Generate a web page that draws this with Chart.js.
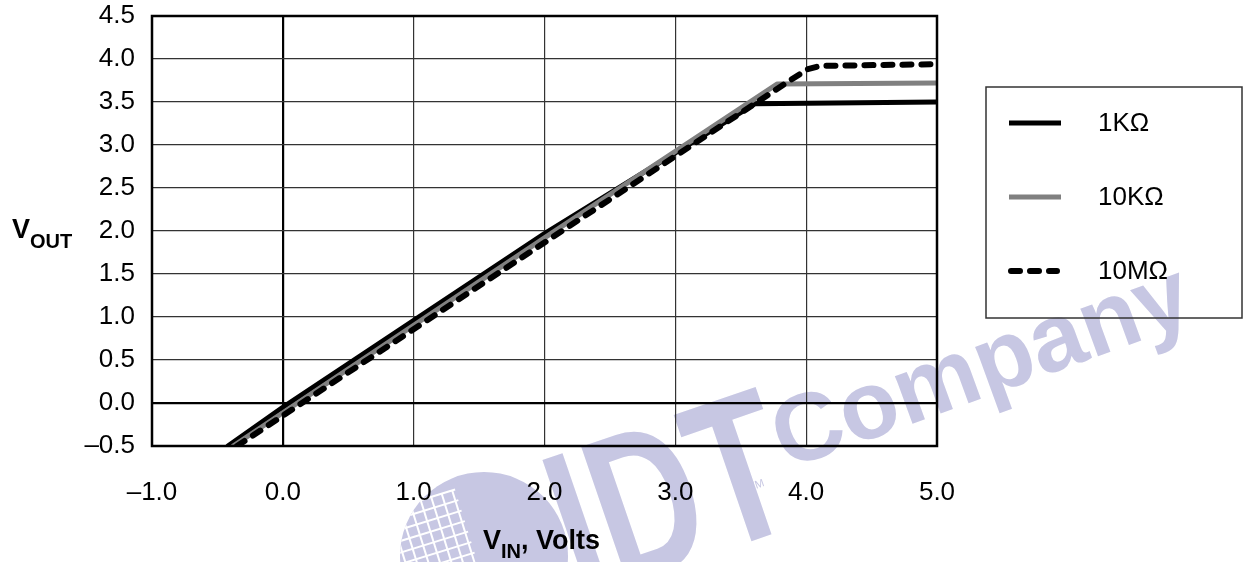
<!DOCTYPE html>
<html>
<head>
<meta charset="utf-8">
<script src="https://cdn.jsdelivr.net/npm/chart.js@4.4.0/dist/chart.umd.min.js"></script>
<style>
  body { margin: 0; background: #fff; }
  #chart { display: block; }
</style>
</head>
<body>
<canvas id="chart" width="1245" height="562"></canvas>
<script>
// series (V_IN, V_OUT)
const seriesNames = ['1KΩ', '10KΩ', '10MΩ'];
const vin1k = [-0.42, 0.0, 2.0, 3.61, 5.0];
const vout1k = [-0.5, -0.05, 1.97, 3.48, 3.50];
const vin10k = [-0.38, 2.0, 3.78, 5.0];
const vout10k = [-0.5, 1.92, 3.71, 3.72];
const vin10m = [-0.35, 2.0, 3.855, 4.01, 4.11, 5.0];
const vout10m = [-0.5, 1.866, 3.73, 3.88, 3.92, 3.94];

const xTicks = [-1, 0, 1, 2, 3, 4, 5];
const yTicks = [-0.5, 0, 0.5, 1, 1.5, 2, 2.5, 3, 3.5, 4, 4.5];

const FONT = '"Liberation Sans", Arial, sans-serif';
const fmt = v => (v < 0 ? '–' : '') + Math.abs(v).toFixed(1);
const pts = (xs, ys) => xs.map((x, i) => ({ x: x, y: ys[i] }));

// faint IDT watermark behind everything
const watermark = {
  id: 'watermark',
  beforeDraw(chart) {
    const c = chart.ctx;
    c.save();
    c.fillStyle = '#c7c7e3';
    // round logo with a white grid on its left side
    c.beginPath();
    c.arc(484, 556, 84, 0, Math.PI * 2);
    c.fill();
    c.save();
    c.beginPath();
    c.arc(484, 556, 84, 0, Math.PI * 2);
    c.clip();
    c.strokeStyle = '#fff';
    c.lineWidth = 2;
    c.translate(484, 556);
    c.rotate(-0.3);
    for (let i = -88; i < -6; i += 11) {
      c.beginPath(); c.moveTo(i, -72); c.lineTo(i, 90); c.stroke();
    }
    for (let j = -72; j < 90; j += 11) {
      c.beginPath(); c.moveTo(-95, j); c.lineTo(-8, j); c.stroke();
    }
    c.restore();

    c.save();
    c.translate(580, 600);
    c.rotate(-0.33);
    c.scale(0.7, 1);
    c.font = 'bold 210px ' + FONT;
    c.fillText('IDT', 0, 0);
    c.restore();
    c.save();
    c.translate(750, 491);
    c.rotate(-0.33);
    c.font = '11px ' + FONT;
    c.fillText('TM', 0, 0);
    c.restore();

    c.save();
    c.translate(786, 470);
    c.rotate(-0.35);
    c.font = 'bold 96px ' + FONT;
    c.fillText('Company', 0, 0);
    c.restore();
    c.restore();
  }
};

// frame, axis titles and boxed legend
const decorations = {
  id: 'decorations',
  afterDraw(chart) {
    const c = chart.ctx;
    const a = chart.chartArea;
    c.save();
    c.strokeStyle = '#000';
    c.lineWidth = 2.5;
    c.strokeRect(a.left, a.top, a.right - a.left, a.bottom - a.top);

    c.fillStyle = '#000';
    c.textBaseline = 'alphabetic';
    c.font = 'bold 27px ' + FONT;
    c.fillText('V', 12, 238);
    let w = c.measureText('V').width;
    c.font = 'bold 20px ' + FONT;
    c.fillText('OUT', 12 + w, 248);

    c.font = 'bold 27px ' + FONT;
    c.fillText('V', 483, 549);
    w = c.measureText('V').width;
    c.font = 'bold 20px ' + FONT;
    c.fillText('IN', 483 + w, 558);
    const w2 = c.measureText('IN').width;
    c.font = 'bold 27px ' + FONT;
    c.fillText(', Volts', 483 + w + w2, 549);

    // legend
    c.strokeStyle = '#333';
    c.lineWidth = 1.5;
    c.strokeRect(986, 87, 256, 231);
    const rows = [123, 197, 271];
    chart.data.datasets.forEach((ds, i) => {
      const dashed = ds.borderDash.length > 0;
      c.beginPath();
      c.strokeStyle = ds.borderColor;
      c.lineWidth = ds.borderWidth;
      c.lineCap = dashed ? 'round' : 'butt';
      c.setLineDash(dashed ? [9, 10] : []);
      c.moveTo(dashed ? 1011 : 1009, rows[i]);
      c.lineTo(dashed ? 1057 : 1061, rows[i]);
      c.stroke();
      c.setLineDash([]);
      c.fillStyle = '#000';
      c.font = '26px ' + FONT;
      c.textBaseline = 'middle';
      c.fillText(ds.label, 1098, rows[i] + 1);
    });
    c.restore();
  }
};

const gridColor = ctx => (ctx.tick && ctx.tick.value === 0 ? '#000' : '#333');
const gridWidth = ctx => (ctx.tick && ctx.tick.value === 0 ? 2.2 : 1.2);

new Chart(document.getElementById('chart'), {
  type: 'line',
  data: {
    datasets: [
      {
        label: seriesNames[0],
        data: pts(vin1k, vout1k),
        borderColor: '#000',
        borderWidth: 5,
        borderDash: [],
        order: 3
      },
      {
        label: seriesNames[1],
        data: pts(vin10k, vout10k),
        borderColor: '#808080',
        borderWidth: 5,
        borderDash: [],
        order: 2
      },
      {
        label: seriesNames[2],
        data: pts(vin10m, vout10m),
        borderColor: '#000',
        borderWidth: 6,
        borderDash: [9, 10],
        order: 1
      }
    ]
  },
  options: {
    responsive: false,
    animation: false,
    devicePixelRatio: 1,
    layout: { padding: { top: 16, right: 308, left: 0, bottom: 0 } },
    elements: {
      point: { radius: 0 },
      line: { tension: 0, borderCapStyle: 'round', borderJoinStyle: 'round', fill: false }
    },
    plugins: {
      legend: { display: false },
      tooltip: { enabled: false }
    },
    scales: {
      x: {
        type: 'linear',
        min: -1,
        max: 5,
        afterFit: s => { s.height = 116; s.paddingLeft = 0; s.paddingRight = 0; },
        afterBuildTicks: s => { s.ticks = xTicks.map(v => ({ value: v })); },
        ticks: {
          color: '#000',
          font: { family: FONT, size: 26 },
          padding: 31,
          maxRotation: 0,
          callback: v => fmt(v)
        },
        grid: { color: gridColor, lineWidth: gridWidth, drawTicks: false },
        border: { display: false }
      },
      y: {
        min: -0.5,
        max: 4.5,
        afterFit: s => { s.width = 152; s.paddingTop = 0; s.paddingBottom = 0; },
        afterBuildTicks: s => { s.ticks = yTicks.map(v => ({ value: v })); },
        ticks: {
          color: '#000',
          font: { family: FONT, size: 26 },
          padding: 17,
          callback: v => fmt(v)
        },
        grid: { color: gridColor, lineWidth: gridWidth, drawTicks: false },
        border: { display: false }
      }
    }
  },
  plugins: [watermark, decorations]
});
</script>
</body>
</html>
